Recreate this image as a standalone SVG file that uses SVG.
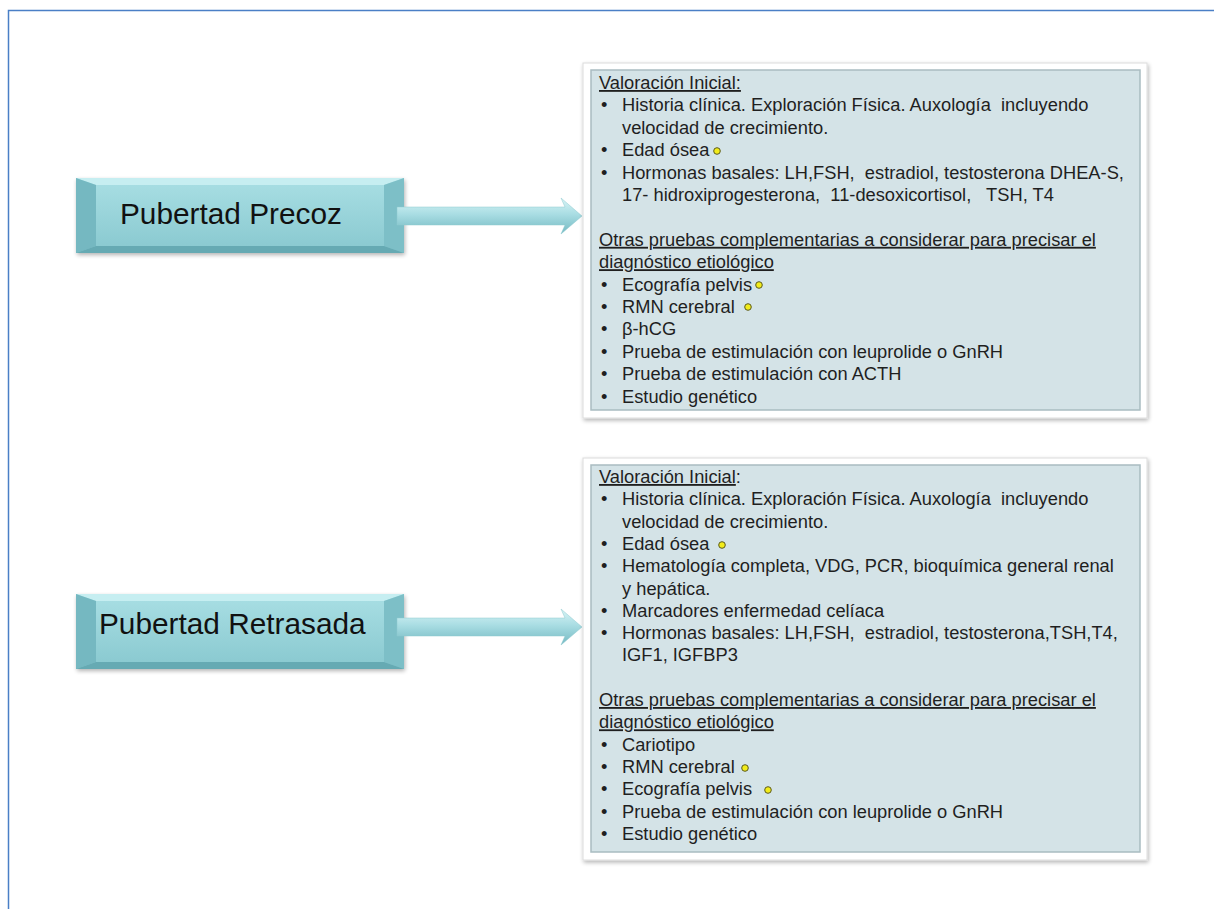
<svg xmlns="http://www.w3.org/2000/svg" width="1214" height="909" viewBox="0 0 1214 909">
<defs>
<linearGradient id="face" x1="0" y1="0" x2="0" y2="1"><stop offset="0" stop-color="#a9dfe4"/><stop offset="1" stop-color="#88c8cf"/></linearGradient>
<linearGradient id="arr" x1="0" y1="0" x2="0" y2="1"><stop offset="0" stop-color="#d8f4f6"/><stop offset="0.45" stop-color="#a9dde3"/><stop offset="1" stop-color="#74b9c2"/></linearGradient>
<filter id="sh" x="-5%" y="-5%" width="110%" height="115%"><feGaussianBlur in="SourceAlpha" stdDeviation="2"/><feOffset dx="1" dy="2"/><feComponentTransfer><feFuncA type="linear" slope="0.3"/></feComponentTransfer><feMerge><feMergeNode/><feMergeNode in="SourceGraphic"/></feMerge></filter>
</defs>
<style>
.t{font-family:"Liberation Sans",Arial,sans-serif;font-size:18.3px;fill:#1f1f1f;white-space:pre}
.n{font-family:"Liberation Sans",Arial,sans-serif;font-size:29.8px;fill:#111}
.u{text-decoration:underline}
.dot{fill:#f2ec1a;stroke:#5a5a20;stroke-width:1}
.frame{fill:#fff;stroke:#dcdcdc;stroke-width:1}
.inner{fill:#d4e3e7;stroke:#a9bcc1;stroke-width:1.5}
.bl{fill:#74b8c1}.br{fill:#7dbfc7}.bt{fill:#c6eef1}.bb{fill:#66aab3}
</style>
<rect width="1214" height="909" fill="#fff"/>
<path d="M8.5 909V10.5H1214" fill="none" stroke="#4a7fc6" stroke-width="1.5"/>

<g id="node-precoz">
<g filter="url(#sh)">
<rect x="76" y="178" width="328" height="75" fill="url(#face)"/>
<polygon class="bt" points="76,178 404,178 384,185 96,185"/>
<polygon class="bl" points="76,178 96,185 96,246 76,253"/>
<polygon class="br" points="404,178 404,253 384,246 384,185"/>
<polygon class="bb" points="76,253 96,246 384,246 404,253"/>
</g>
<text class="n" x="120" y="224">Pubertad Precoz</text>
</g>

<g id="node-retrasada">
<g filter="url(#sh)">
<rect x="76" y="594" width="328" height="75" fill="url(#face)"/>
<polygon class="bt" points="76,594 404,594 384,601 96,601"/>
<polygon class="bl" points="76,594 96,601 96,662 76,669"/>
<polygon class="br" points="404,594 404,669 384,662 384,601"/>
<polygon class="bb" points="76,669 96,662 384,662 404,669"/>
</g>
<text class="n" x="99" y="634">Pubertad Retrasada</text>
</g>

<g id="connectors">
<polygon fill="url(#arr)" stroke="#8cc8cf" stroke-width="0.5" points="397,207 565,207 561,198 582,216 561,234 565,225 397,225"/>
<polygon fill="url(#arr)" stroke="#8cc8cf" stroke-width="0.5" points="397,618 565,618 561,609 582,627 561,645 565,636 397,636"/>
</g>

<g id="box-precoz">
<rect class="frame" x="583" y="63" width="564" height="355" filter="url(#sh)"/>
<rect class="inner" x="591" y="70" width="549" height="340"/>
<text class="t">
<tspan x="599" y="89" class="u">Valoración Inicial:</tspan>
<tspan x="601" y="111.4">•</tspan><tspan x="622" y="111.4">Historia clínica. Exploración Física. Auxología  incluyendo</tspan>
<tspan x="622" y="133.8">velocidad de crecimiento.</tspan>
<tspan x="601" y="156.2">•</tspan><tspan x="622" y="156.2">Edad ósea</tspan>
<tspan x="601" y="178.6">•</tspan><tspan x="622" y="178.6">Hormonas basales: LH,FSH,  estradiol, testosterona DHEA-S,</tspan>
<tspan x="622" y="201">17- hidroxiprogesterona,  11-desoxicortisol,   TSH, T4</tspan>
<tspan x="599" y="245.8" class="u">Otras pruebas complementarias a considerar para precisar el</tspan>
<tspan x="599" y="268.2" class="u">diagnóstico etiológico</tspan>
<tspan x="601" y="290.6">•</tspan><tspan x="622" y="290.6">Ecografía pelvis</tspan>
<tspan x="601" y="313">•</tspan><tspan x="622" y="313">RMN cerebral</tspan>
<tspan x="601" y="335.4">•</tspan><tspan x="622" y="335.4">β-hCG</tspan>
<tspan x="601" y="357.8">•</tspan><tspan x="622" y="357.8">Prueba de estimulación con leuprolide o GnRH</tspan>
<tspan x="601" y="380.2">•</tspan><tspan x="622" y="380.2">Prueba de estimulación con ACTH</tspan>
<tspan x="601" y="402.6">•</tspan><tspan x="622" y="402.6">Estudio genético</tspan>
</text>
<circle class="dot" cx="717" cy="151" r="3.3"/>
<circle class="dot" cx="759" cy="285" r="3.3"/>
<circle class="dot" cx="748" cy="307" r="3.3"/>
</g>

<g id="box-retrasada">
<rect class="frame" x="583" y="458" width="564" height="402" filter="url(#sh)"/>
<rect class="inner" x="591" y="465" width="549" height="387"/>
<text class="t">
<tspan x="599" y="483" class="u">Valoración Inicial</tspan><tspan>:</tspan>
<tspan x="601" y="505.3">•</tspan><tspan x="622" y="505.3">Historia clínica. Exploración Física. Auxología  incluyendo</tspan>
<tspan x="622" y="527.6">velocidad de crecimiento.</tspan>
<tspan x="601" y="549.9">•</tspan><tspan x="622" y="549.9">Edad ósea</tspan>
<tspan x="601" y="572.2">•</tspan><tspan x="622" y="572.2">Hematología completa, VDG, PCR, bioquímica general renal</tspan>
<tspan x="622" y="594.5">y hepática.</tspan>
<tspan x="601" y="616.8">•</tspan><tspan x="622" y="616.8">Marcadores enfermedad celíaca</tspan>
<tspan x="601" y="639.1">•</tspan><tspan x="622" y="639.1">Hormonas basales: LH,FSH,  estradiol, testosterona,TSH,T4,</tspan>
<tspan x="622" y="661.4">IGF1, IGFBP3</tspan>
<tspan x="599" y="706" class="u">Otras pruebas complementarias a considerar para precisar el</tspan>
<tspan x="599" y="728.3" class="u">diagnóstico etiológico</tspan>
<tspan x="601" y="750.6">•</tspan><tspan x="622" y="750.6">Cariotipo</tspan>
<tspan x="601" y="772.9">•</tspan><tspan x="622" y="772.9">RMN cerebral</tspan>
<tspan x="601" y="795.2">•</tspan><tspan x="622" y="795.2">Ecografía pelvis</tspan>
<tspan x="601" y="817.5">•</tspan><tspan x="622" y="817.5">Prueba de estimulación con leuprolide o GnRH</tspan>
<tspan x="601" y="839.8">•</tspan><tspan x="622" y="839.8">Estudio genético</tspan>
</text>
<circle class="dot" cx="722" cy="545" r="3.3"/>
<circle class="dot" cx="745" cy="768" r="3.3"/>
<circle class="dot" cx="768" cy="790" r="3.3"/>
</g>
</svg>
